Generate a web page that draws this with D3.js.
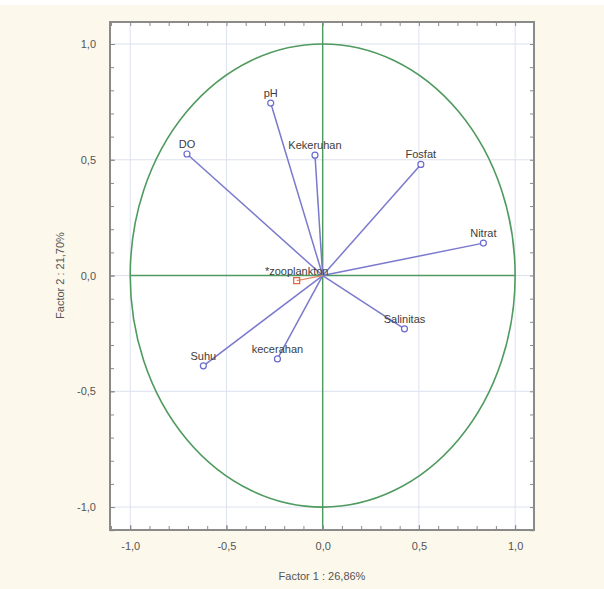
<!DOCTYPE html>
<html>
<head>
<meta charset="utf-8">
<script src="https://cdn.jsdelivr.net/npm/d3@7"></script>
<style>
  body { margin: 0; background: #fcf8ec; }
  svg { display: block; }
</style>
</head>
<body>
<svg width="604" height="589"></svg>
<script>
const variables = ['pH', 'DO', 'Kekeruhan', 'Fosfat', 'Nitrat', 'Salinitas', 'kecerahan', 'Suhu'];
const factor1 = [-0.27, -0.705, -0.04, 0.51, 0.835, 0.425, -0.235, -0.62];
const factor2 = [0.745, 0.525, 0.52, 0.48, 0.14, -0.23, -0.36, -0.39];

// supplementary variable
const suppName = '*zooplankton';
const suppF1 = -0.135;
const suppF2 = -0.022;

const ticks = [-1, -0.5, 0, 0.5, 1];
const xTitle = 'Factor 1 : 26,86%';
const yTitle = 'Factor 2 : 21,70%';

const svg = d3.select('svg');
const width = +svg.attr('width');
const height = +svg.attr('height');

// faint white strip at the top (cut-off title area)
svg.append('rect')
  .attr('width', width)
  .attr('height', 5)
  .attr('fill', '#ffffff');

const pLeft = 110, pRight = 534, pTop = 22, pBottom = 530;

const x = d3.scaleLinear().domain([-1.105, 1.098]).range([pLeft, pRight]);
const y = d3.scaleLinear().domain([-1.099, 1.095]).range([pBottom, pTop]);

const fmt = d => d3.format('.1f')(d).replace('.', ',').replace('−', '-');

// plot area
svg.append('rect')
  .attr('x', pLeft)
  .attr('y', pTop)
  .attr('width', pRight - pLeft)
  .attr('height', pBottom - pTop)
  .attr('fill', '#ffffff');

// gridlines
const grid = svg.append('g').attr('stroke', '#dde2f0').attr('stroke-width', 1);
grid.selectAll('.vg').data(ticks).join('line')
  .attr('x1', d => x(d)).attr('x2', d => x(d))
  .attr('y1', pTop).attr('y2', pBottom);
grid.selectAll('.hg').data(ticks).join('line')
  .attr('y1', d => y(d)).attr('y2', d => y(d))
  .attr('x1', pLeft).attr('x2', pRight);

// unit circle and axes cross
const green = '#4f9a5e';
svg.append('ellipse')
  .attr('cx', x(0))
  .attr('cy', y(0))
  .attr('rx', x(1) - x(0))
  .attr('ry', y(0) - y(1))
  .attr('fill', 'none')
  .attr('stroke', green)
  .attr('stroke-width', 1.6);

svg.append('line')
  .attr('x1', x(0)).attr('x2', x(0))
  .attr('y1', pTop).attr('y2', pBottom)
  .attr('stroke', green).attr('stroke-width', 1.4);
svg.append('line')
  .attr('x1', x(-1)).attr('x2', x(1))
  .attr('y1', y(0)).attr('y2', y(0))
  .attr('stroke', green).attr('stroke-width', 1.4);

// axes with ticks inside the frame
const minor = d3.range(-11, 11).map(i => i / 10).filter(v => v >= -1.1 && v <= 1.09);

const xAxisB = svg.append('g')
  .attr('transform', `translate(0,${pBottom})`)
  .call(d3.axisBottom(x).tickValues(ticks).tickFormat(fmt).tickSizeInner(-5).tickSizeOuter(0).tickPadding(12));
const xAxisT = svg.append('g')
  .attr('transform', `translate(0,${pTop})`)
  .call(d3.axisTop(x).tickValues(minor).tickFormat('').tickSizeInner(-4).tickSizeOuter(0));
const xAxisB2 = svg.append('g')
  .attr('transform', `translate(0,${pBottom})`)
  .call(d3.axisBottom(x).tickValues(minor).tickFormat('').tickSizeInner(-4).tickSizeOuter(0));
const yAxisL = svg.append('g')
  .attr('transform', `translate(${pLeft},0)`)
  .call(d3.axisLeft(y).tickValues(ticks).tickFormat(fmt).tickSizeInner(-5).tickSizeOuter(0).tickPadding(14));
const yAxisL2 = svg.append('g')
  .attr('transform', `translate(${pLeft},0)`)
  .call(d3.axisLeft(y).tickValues(minor).tickFormat('').tickSizeInner(-4).tickSizeOuter(0));
const yAxisR = svg.append('g')
  .attr('transform', `translate(${pRight},0)`)
  .call(d3.axisRight(y).tickValues(minor).tickFormat('').tickSizeInner(-4).tickSizeOuter(0));

[xAxisB, xAxisT, xAxisB2, yAxisL, yAxisL2, yAxisR].forEach(a => {
  a.select('.domain').remove();
  a.selectAll('line').attr('stroke', '#8a8a8a');
  a.selectAll('text')
    .attr('fill', '#555')
    .style('font-family', 'Liberation Sans, Arial, sans-serif')
    .style('font-size', '11px');
});

// frame
svg.append('rect')
  .attr('x', pLeft)
  .attr('y', pTop)
  .attr('width', pRight - pLeft)
  .attr('height', pBottom - pTop)
  .attr('fill', 'none')
  .attr('stroke', '#8a8a8a')
  .attr('stroke-width', 2);

// vectors
const blue = '#7a7acc';
const points = variables.map((name, i) => ({ name, f1: factor1[i], f2: factor2[i] }));

svg.append('g').selectAll('line').data(points).join('line')
  .attr('x1', x(0)).attr('y1', y(0))
  .attr('x2', d => x(d.f1)).attr('y2', d => y(d.f2))
  .attr('stroke', blue)
  .attr('stroke-width', 1.5);

svg.append('g').selectAll('circle').data(points).join('circle')
  .attr('cx', d => x(d.f1)).attr('cy', d => y(d.f2))
  .attr('r', 3)
  .attr('fill', '#ffffff')
  .attr('stroke', '#6a6ad0')
  .attr('stroke-width', 1.2);

svg.append('g').selectAll('text').data(points).join('text')
  .attr('x', d => x(d.f1)).attr('y', d => y(d.f2) - 6)
  .attr('text-anchor', 'middle')
  .attr('fill', '#3c3c3c')
  .style('font-family', 'Liberation Sans, Arial, sans-serif')
  .style('font-size', '11px')
  .text(d => d.name);

// supplementary variable
svg.append('line')
  .attr('x1', x(0)).attr('y1', y(0))
  .attr('x2', x(suppF1)).attr('y2', y(suppF2))
  .attr('stroke', '#e08a6a').attr('stroke-width', 1.2);
svg.append('rect')
  .attr('x', x(suppF1) - 3).attr('y', y(suppF2) - 3)
  .attr('width', 6).attr('height', 6)
  .attr('fill', 'none')
  .attr('stroke', '#e0603c')
  .attr('stroke-width', 1.2);
svg.append('text')
  .attr('x', x(suppF1)).attr('y', y(suppF2) - 6)
  .attr('text-anchor', 'middle')
  .attr('fill', '#3c3c3c')
  .style('font-family', 'Liberation Sans, Arial, sans-serif')
  .style('font-size', '11px')
  .text(suppName);

// axis titles
svg.append('text')
  .attr('x', (pLeft + pRight) / 2)
  .attr('y', 580)
  .attr('text-anchor', 'middle')
  .attr('fill', '#555')
  .style('font-family', 'Liberation Sans, Arial, sans-serif')
  .style('font-size', '11px')
  .text(xTitle);

svg.append('text')
  .attr('transform', `translate(64,${y(0)}) rotate(-90)`)
  .attr('text-anchor', 'middle')
  .attr('fill', '#555')
  .style('font-family', 'Liberation Sans, Arial, sans-serif')
  .style('font-size', '11px')
  .text(yTitle);
</script>
</body>
</html>
